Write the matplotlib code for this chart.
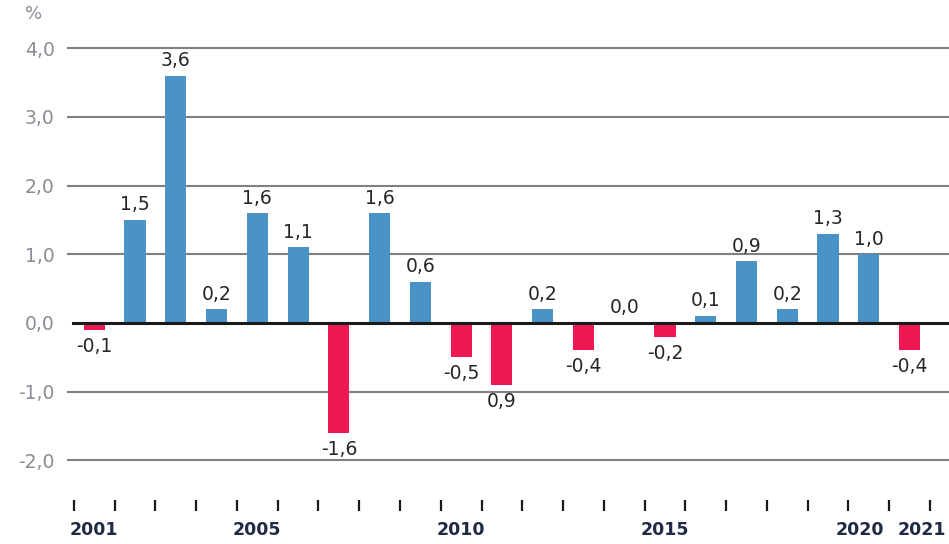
import matplotlib
matplotlib.use("Agg")
import matplotlib.pyplot as plt
import matplotlib.transforms as mtransforms

years = list(range(2001, 2022))
values = [-0.1, 1.5, 3.6, 0.2, 1.6, 1.1, -1.6, 1.6, 0.6, -0.5, -0.9, 0.2,
          -0.4, 0.0, -0.2, 0.1, 0.9, 0.2, 1.3, 1.0, -0.4]
value_labels = ["-0,1", "1,5", "3,6", "0,2", "1,6", "1,1", "-1,6", "1,6", "0,6",
                "-0,5", "0,9", "0,2", "-0,4", "0,0", "-0,2", "0,1", "0,9", "0,2",
                "1,3", "1,0", "-0,4"]
ytick_values = [-2, -1, 0, 1, 2, 3, 4]
ytick_labels = ["-2,0", "-1,0", "0,0", "1,0", "2,0", "3,0", "4,0"]
year_ticks = [2001, 2005, 2010, 2015, 2020, 2021]

BLUE = "#4a93c6"
RED = "#ee1751"
GRID = "#808080"
TICKGRAY = "#8a8c96"

fig = plt.figure(figsize=(9.49, 5.44), dpi=100)
ax = fig.add_axes([67/949, 1 - 500/544, 1 - 67/949, (500 - 14)/544])

ax.set_xlim(2000.33, 2021.97)
ax.set_ylim(-2.58, 4.5)

for y in ytick_values:
    if y != 0:
        ax.axhline(y, color=GRID, lw=1.5, zorder=1)

colors = [BLUE if v >= 0 else RED for v in values]
ax.bar(years, values, width=0.52, color=colors, zorder=2)
ax.axhline(0, xmin=6/882, color="#1a1a1a", lw=2.2, zorder=3)

for x, v, lab in zip(years, values, value_labels):
    if v >= 0:
        ax.annotate(lab, (x, v), xytext=(0, 4), textcoords="offset points",
                    ha="center", va="bottom", fontsize=13.5, color="#262626", zorder=4)
    else:
        ax.annotate(lab, (x, v), xytext=(0, -5), textcoords="offset points",
                    ha="center", va="top", fontsize=13.5, color="#262626", zorder=4)

for s in ax.spines.values():
    s.set_visible(False)

ax.set_yticks(ytick_values)
ax.set_yticklabels(ytick_labels)
ax.tick_params(axis="y", length=0, pad=9, labelsize=13.5, labelcolor=TICKGRAY)

# year boundary ticks
ax.set_xticks([y - 0.5 for y in years] + [years[-1] + 0.5], minor=True)
ax.set_xticks([])
ax.tick_params(axis="x", which="minor", length=8, width=1.6, color="#1a1a1a", direction="out")

trans = mtransforms.blended_transform_factory(ax.transData, ax.transAxes)
label_shift = {2020: -9, 2021: 12}
for yr in year_ticks:
    off = mtransforms.offset_copy(trans, fig=fig, x=label_shift.get(yr, 0), y=0, units="dots")
    ax.text(yr, -30/486, str(yr), transform=off, ha="center", va="center",
            fontsize=12.5, fontweight="bold", color="#1f2a44")

fig.text(34/949, 1 - 14/544, "%", ha="center", va="center", fontsize=13, color=TICKGRAY)

fig.savefig("out.png", dpi=100)
